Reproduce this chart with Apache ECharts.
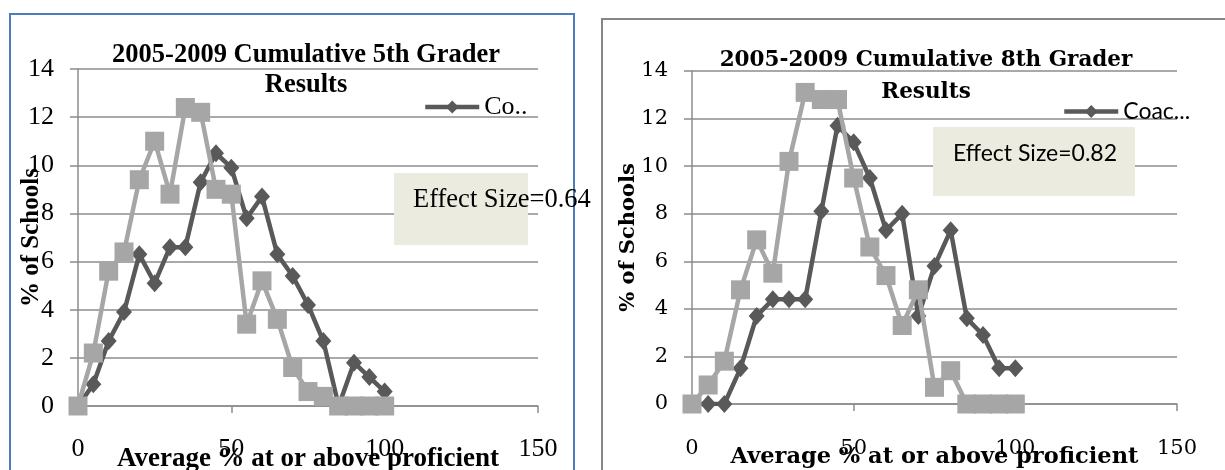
<!DOCTYPE html>
<html>
<head>
<meta charset="utf-8">
<script src="https://cdn.jsdelivr.net/npm/echarts@6/dist/echarts.min.js"></script>
<style>
  html, body { margin: 0; padding: 0; background: #ffffff; }
  #chart { width: 1225px; height: 470px; }
</style>
</head>
<body>
<div id="chart"></div>
<script>
// Average % of students at or above proficient (bin start)
const scoreBins = [0, 5, 10, 15, 20, 25, 30, 35, 40, 45, 50, 55, 60, 65, 70, 75, 80, 85, 90, 95, 100];

// 5th grade: % of schools in each bin
const grade5Coached = [0, 0.9, 2.7, 3.9, 6.3, 5.1, 6.6, 6.6, 9.3, 10.5, 9.9, 7.8, 8.7, 6.3, 5.4, 4.2, 2.7, 0, 1.8, 1.2, 0.6];
const grade5Other   = [0, 2.2, 5.6, 6.4, 9.4, 11.0, 8.8, 12.4, 12.2, 9.0, 8.8, 3.4, 5.2, 3.6, 1.6, 0.6, 0.4, 0, 0, 0, 0];

// 8th grade: % of schools in each bin
const grade8Coached = [0, 0, 0, 1.5, 3.7, 4.4, 4.4, 4.4, 8.1, 11.7, 11.0, 9.5, 7.3, 8.0, 3.7, 5.8, 7.3, 3.6, 2.9, 1.5, 1.5];
const grade8Other   = [0, 0.8, 1.8, 4.8, 6.9, 5.5, 10.2, 13.1, 12.8, 12.8, 9.5, 6.6, 5.4, 3.3, 4.8, 0.7, 1.4, 0, 0, 0, 0];

// Axis ticks
const xTicks = [0, 50, 100, 150];
const yTicks = [0, 2, 4, 6, 8, 10, 12, 14];

const chartTitles = ['2005-2009 Cumulative 5th Grader\nResults', '2005-2009 Cumulative 8th Grader\nResults'];
const effectSizes = ['Effect Size=0.64', 'Effect Size=0.82'];
const coachedName = 'Coached';
const otherName = 'Not coached';
const xAxisTitle = 'Average % at or above proficient';
const yAxisTitle = '% of Schools';

const DARK = '#595959';
const LIGHT = '#a6a6a6';
const GRID = '#8c8c8c';
const SERIF_L = 'Liberation Serif';
const SERIF_R = 'DejaVu Serif';

const pairs = (ys) => ys.map((v, i) => [scoreBins[i], v]);

function xAxisFor(gridIndex, font, size, nameSize, margin, gap) {
  return {
    gridIndex, type: 'value',
    min: xTicks[0], max: xTicks[xTicks.length - 1], interval: xTicks[1] - xTicks[0],
    axisLine: { show: true, lineStyle: { color: GRID, width: 1.5 } },
    axisTick: { show: true, length: 7, lineStyle: { color: GRID, width: 1.5 } },
    splitLine: { show: false },
    axisLabel: { fontFamily: font, fontSize: size, color: '#000', margin },
    name: xAxisTitle, nameLocation: 'middle', nameGap: gap, nameMoveOverlap: false,
    nameTextStyle: { fontFamily: font, fontSize: nameSize, fontWeight: 'bold', color: '#000' }
  };
}

function yAxisFor(gridIndex, font, size, nameSize, gap) {
  return {
    gridIndex, type: 'value',
    min: yTicks[0], max: yTicks[yTicks.length - 1], interval: yTicks[1] - yTicks[0],
    axisLine: { show: true, lineStyle: { color: GRID, width: 1.5 } },
    axisTick: { show: true, length: 8, lineStyle: { color: GRID, width: 1.5 } },
    splitLine: { show: true, lineStyle: { color: GRID, width: 1.5 } },
    axisLabel: { fontFamily: font, fontSize: size, color: '#000', margin: 24 },
    name: yAxisTitle, nameLocation: 'middle', nameGap: gap, nameMoveOverlap: false,
    nameTextStyle: { fontFamily: font, fontSize: nameSize, fontWeight: 'bold', color: '#000' }
  };
}

function lineSeries(name, data, idx, dark) {
  return {
    type: 'line', name, data, xAxisIndex: idx, yAxisIndex: idx,
    symbol: dark ? 'diamond' : 'rect',
    symbolSize: dark ? [16, 18] : 19,
    showAllSymbol: true,
    lineStyle: { color: dark ? DARK : LIGHT, width: 4.5 },
    itemStyle: { color: dark ? DARK : LIGHT },
    z: dark ? 2 : 3,
    animation: false
  };
}

const chart = echarts.init(document.getElementById('chart'), null, { renderer: 'canvas' });
chart.setOption({
  animation: false,
  backgroundColor: '#ffffff',
  title: [
    { text: chartTitles[0], left: 301, top: 35, textAlign: 'center',
      textStyle: { fontFamily: SERIF_L, fontSize: 26.5, fontWeight: 'bold', color: '#000', lineHeight: 30 } },
    { text: chartTitles[1], left: 921, top: 39, textAlign: 'center',
      textStyle: { fontFamily: SERIF_R, fontSize: 21.5, fontWeight: 'bold', color: '#000', lineHeight: 32 } }
  ],
  legend: [
    { data: [coachedName], left: 418, top: 89, itemWidth: 54, itemHeight: 16, itemGap: 4,
      lineStyle: { width: 4.5 },
      formatter: (n) => n.slice(0, 2) + '..',
      textStyle: { fontFamily: SERIF_L, fontSize: 26, color: '#000' } },
    { data: [coachedName], left: 1057, top: 95, itemWidth: 54, itemHeight: 16, itemGap: 4,
      lineStyle: { width: 4.5 },
      formatter: (n) => n.slice(0, 4) + '...',
      textStyle: { fontFamily: 'Lato', fontSize: 23, color: '#000' } }
  ],
  grid: [
    { left: 78, top: 69, width: 460, height: 337, outerBoundsMode: 'none', containLabel: false },
    { left: 692, top: 71, width: 485, height: 333, outerBoundsMode: 'none', containLabel: false }
  ],
  xAxis: [xAxisFor(0, SERIF_L, 26, 27, 30, 40), xAxisFor(1, SERIF_R, 21, 22.5, 34, 42)],
  yAxis: [yAxisFor(0, SERIF_L, 26, 25, 34), yAxisFor(1, SERIF_R, 21, 21, 53)],
  series: [
    lineSeries(coachedName, pairs(grade5Coached), 0, true),
    lineSeries(otherName, pairs(grade5Other), 0, false),
    lineSeries(coachedName, pairs(grade8Coached), 1, true),
    lineSeries(otherName, pairs(grade8Other), 1, false)
  ],
  graphic: [
    // chart frames
    { type: 'rect', shape: { x: 10, y: 14, width: 564, height: 500 }, z: 0,
      style: { fill: null, stroke: '#4a7ebb', lineWidth: 2 }, silent: true },
    { type: 'rect', shape: { x: 602, y: 19, width: 700, height: 500 }, z: 0,
      style: { fill: null, stroke: '#868686', lineWidth: 2 }, silent: true },
    // effect size boxes
    { type: 'rect', shape: { x: 394, y: 173, width: 134, height: 72 }, z: 10,
      style: { fill: '#ecebe0' }, silent: true },
    { type: 'text', x: 413, y: 200, z: 11,
      style: { text: effectSizes[0], fill: '#000', font: '26.5px "Liberation Serif"', verticalAlign: 'middle' } },
    { type: 'rect', shape: { x: 933, y: 127, width: 202, height: 69 }, z: 10,
      style: { fill: '#ecebe0' }, silent: true },
    { type: 'text', x: 953, y: 154, z: 11,
      style: { text: effectSizes[1], fill: '#000', font: '23px Lato', verticalAlign: 'middle' } }
  ]
});
</script>
</body>
</html>
